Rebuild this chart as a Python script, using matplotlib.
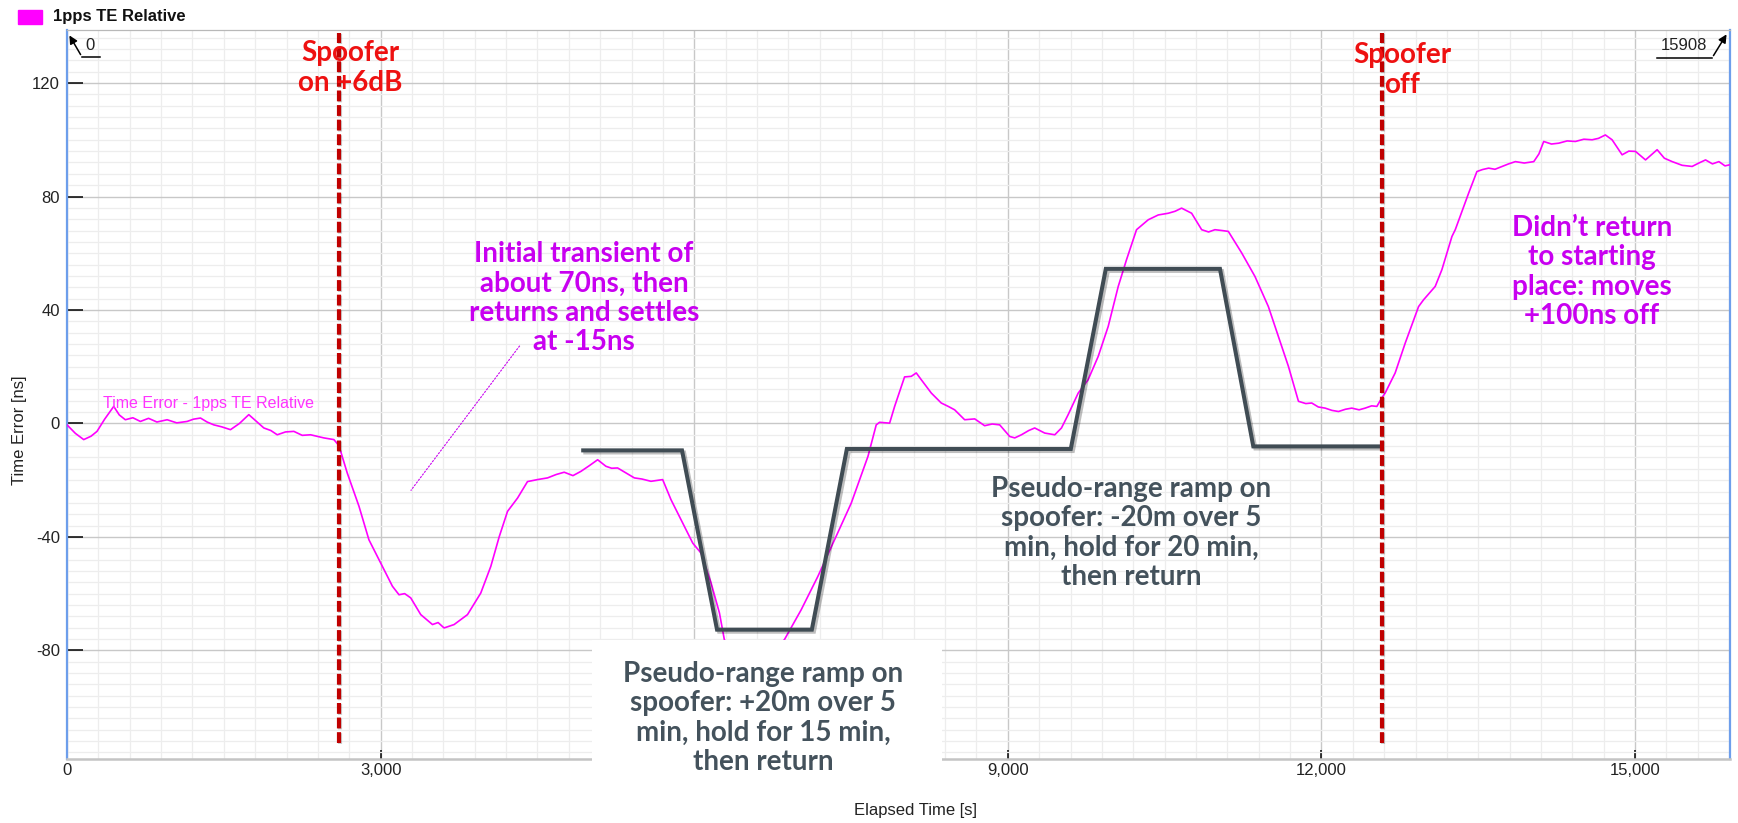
#!/usr/bin/env python3
# -*- coding: utf-8 -*-
"""
Time error plot: 1pps TE relative while a spoofer ramps the pseudo-range.
"""

import matplotlib
matplotlib.use('Agg')
import matplotlib.pyplot as plt
import matplotlib.patheffects as pe
from matplotlib.lines import Line2D
from matplotlib.patches import Rectangle
from matplotlib.ticker import MultipleLocator, FuncFormatter

W, H = 1738, 823

# measured 1pps time error (ns) vs elapsed time (s)
te_time = [0, 80, 160, 230, 287, 360, 447, 500, 558, 630, 702, 780, 860, 958, 1050, 1149, 1210, 1277,
           1340, 1404, 1480, 1564, 1650, 1739, 1810, 1883, 1950, 2011, 2090, 2170, 2250, 2330, 2400,
           2457, 2553, 2601, 2681, 2793, 2888, 3000, 3113, 3176, 3230, 3288, 3384, 3496, 3550, 3607,
           3703, 3831, 3958, 4054, 4134, 4214, 4310, 4405, 4500, 4597, 4680, 4756, 4840, 4916, 5000,
           5076, 5155, 5210, 5267, 5350, 5427, 5500, 5586, 5698, 5778, 5890, 5986, 6065, 6161, 6241,
           6288, 6400, 6550, 6700, 6863, 7023, 7183, 7342, 7502, 7662, 7741, 7773, 7869, 7917, 8012,
           8076, 8124, 8172, 8268, 8363, 8430, 8491, 8587, 8683, 8778, 8850, 8922, 9018, 9066, 9130,
           9200, 9257, 9353, 9449, 9513, 9577, 9673, 9768, 9864, 9960, 10056, 10135, 10231, 10343,
           10439, 10535, 10600, 10662, 10758, 10854, 10920, 10981, 11050, 11109, 11237, 11364, 11492,
           11588, 11684, 11780, 11850, 11907, 11970, 12035, 12100, 12163, 12230, 12290, 12360, 12418,
           12480, 12530, 12577, 12609, 12705, 12769, 12801, 12929, 12977, 13088, 13152, 13248, 13280,
           13408, 13487, 13540, 13599, 13660, 13727, 13790, 13855, 13940, 14031, 14080, 14126, 14200,
           14270, 14350, 14429, 14510, 14589, 14650, 14716, 14780, 14876, 14940, 15004, 15100, 15211,
           15280, 15355, 15450, 15546, 15610, 15674, 15740, 15802, 15860, 15908]
te_ns = [-0.5, -3.5, -5.7, -4.5, -2.8, 1.5, 6.0, 3.0, 1.3, 2.0, 0.7, 1.8, 0.5, 1.3, 0.2, 0.7, 1.5, 1.9,
         0.5, -0.5, -1.2, -2.2, 0.0, 3.1, 0.8, -1.6, -2.5, -4.0, -3.0, -2.8, -4.2, -4.0, -4.6,
         -5.1, -5.7, -7.8, -17.5, -29.2, -41.0, -49.2, -57.4, -60.4, -60.0, -61.5, -67.4, -70.9, -70.2, -72.1,
         -70.9, -67.4, -59.8, -50.4, -40.0, -31.0, -26.3, -20.5, -19.8, -19.2, -18.0, -17.2, -18.4, -16.9, -14.8,
         -12.8, -15.1, -15.8, -15.7, -17.5, -19.2, -19.6, -20.4, -19.8, -26.9, -35.1, -42.2, -45.7, -56.2, -66.8,
         -76.2, -82.0, -84.0, -82.5, -76.2, -65.7, -53.9, -41.0, -28.1, -11.6, -0.5, 0.4, 0.1, 6.0, 16.4,
         16.6, 17.8, 15.4, 10.7, 7.2, 6.0, 4.8, 1.3, 1.6, -0.8, -0.2, -0.5, -4.6, -5.1, -4.0,
         -2.5, -1.6, -3.4, -4.0, -1.6, 3.1, 10.7, 15.4, 23.6, 34.2, 48.3, 57.7, 68.3, 71.8,
         73.5, 74.1, 74.8, 75.9, 74.1, 68.3, 67.5, 68.3, 68.0, 67.7, 60.1, 51.8, 41.2,
         30.7, 20.1, 7.8, 7.0, 7.2, 5.8, 5.4, 4.6, 4.2, 5.0, 5.4, 4.8, 5.4,
         6.2, 6.0, 9.0, 10.7, 17.8, 24.8, 28.3, 41.2, 43.6, 48.3, 54.2, 65.9, 68.3,
         81.2, 88.8, 89.5, 90.0, 89.6, 90.6, 91.5, 92.3, 91.8, 92.3, 95.0, 99.4, 98.5,
         98.8, 99.6, 99.4, 100.2, 100.0, 100.5, 101.7, 100.0, 94.7, 96.0, 95.9, 92.9, 96.5,
         93.5, 92.3, 91.0, 90.6, 91.8, 92.9, 91.5, 92.3, 90.8, 91.2]

# pseudo-range ramp profile drawn over the plot
ramp_time = [4938, 5883, 6218, 7125, 7460, 9602, 9937, 11029, 11348, 12545]
ramp_ns = [-9.5, -9.5, -72.7, -72.7, -9.0, -9.0, 54.5, 54.5, -8.1, -8.1]

spoofer_on_s = 2598
spoofer_off_s = 12577
x_ticks = [0, 3000, 6000, 9000, 12000, 15000]
x_hidden = [6000]  # label sits under the note box
y_ticks = [-80, -40, 0, 40, 80, 120]
x_max = 15908

MAGENTA = '#ff00ff'
NOTE_PURPLE = '#c800f0'
RED_TXT = '#ee1111'
DARK_RED = '#c00000'
SLATE = '#404c54'
NOTE_FONT = ['Lato', 'DejaVu Sans']


def fp(x, y):  # figure pixels (top-left origin) -> figure fraction
    return x / W, 1 - y / H


def xfmt(v, pos):
    if int(v) in x_hidden:
        return ''
    return '{:,}'.format(int(v))


plt.rcParams['font.family'] = ['Liberation Sans', 'DejaVu Sans']
plt.rcParams['axes.unicode_minus'] = False

fig = plt.figure(figsize=(W / 100, H / 100), dpi=100)
x0, y1 = fp(67, 759)
x1, y0 = fp(1730, 30)
ax = fig.add_axes([x0, y1, x1 - x0, y0 - y1])

ax.set_xlim(0, x_max)
ax.set_ylim(-118.3, 138.7)
ax.set_xticks(x_ticks)
ax.set_yticks(y_ticks)
ax.xaxis.set_major_formatter(FuncFormatter(xfmt))
ax.xaxis.set_minor_locator(MultipleLocator(300))
ax.yaxis.set_minor_locator(MultipleLocator(4))
ax.grid(which='minor', color='#ededed', lw=0.9)
ax.grid(which='major', color='#c8c8c8', lw=1.0)
ax.set_axisbelow(True)
ax.tick_params(which='minor', length=0)
ax.tick_params(axis='y', which='major', direction='in', length=11.5, width=1.1,
               pad=5, labelsize=12, labelcolor='#222222')
ax.tick_params(axis='x', which='major', direction='in', length=6.5, width=1.1,
               pad=3, labelsize=12, labelcolor='#222222')

for side in ['left', 'right']:
    ax.spines[side].set_color('#6d9eeb')
    ax.spines[side].set_linewidth(1.6)
ax.spines['top'].set_color('#b8b8b8')
ax.spines['top'].set_linewidth(0.9)
ax.spines['bottom'].set_color('#c4c4c4')
ax.spines['bottom'].set_linewidth(1.8)

# data
ax.plot(te_time, te_ns, color=MAGENTA, lw=1.2, zorder=3)
ax.plot(ramp_time, ramp_ns, color=SLATE, lw=2.9, zorder=4, solid_joinstyle='miter',
        path_effects=[pe.SimpleLineShadow(offset=(1.5, -1.5), alpha=0.25), pe.Normal()])

# spoofer on / off markers
for xs in [spoofer_on_s, spoofer_off_s]:
    ax.plot([xs, xs], [-112.5, 137.7], color=DARK_RED, lw=3, ls=(0, (2.6, 0.9)), zorder=5,
            path_effects=[pe.SimpleLineShadow(offset=(1, -1), alpha=0.2), pe.Normal()])

ax.text(1353, 7.2, 'Time Error - 1pps TE Relative', color='#ff33ff', fontsize=11.5,
        ha='center', va='center', zorder=4)

# leader line from the transient note
ax.plot([4331, 3288], [27.4, -23.7], color=NOTE_PURPLE, lw=0.8, ls=(0, (2, 1)), zorder=5)

# axis labels
fig.text(*fp(20, 430), 'Time Error [ns]', rotation=90, ha='center', va='center',
         fontsize=12, color='#222222')
fig.text(*fp(915, 811), 'Elapsed Time [s]', ha='center', va='center', fontsize=12,
         color='#222222', zorder=8)

# legend
fig.add_artist(Rectangle(fp(18, 24), 24 / W, 14 / H, transform=fig.transFigure,
                         color=MAGENTA, zorder=5))
fig.text(*fp(53, 17), '1pps TE Relative', fontsize=12, fontweight='bold',
         ha='left', va='center', color='#111111')

# cursor markers at the corners
ax.annotate('', xy=fp(68, 33), xytext=fp(82, 57), xycoords='figure fraction',
            textcoords='figure fraction',
            arrowprops=dict(arrowstyle='-|>', color='black', lw=1.1, mutation_scale=12))
fig.add_artist(Line2D([82 / W, 100 / W], [1 - 57 / H, 1 - 57 / H], color='black', lw=1.1))
fig.text(*fp(90, 46), '0', fontsize=12, ha='center', va='center', color='#222222')

ax.annotate('', xy=fp(1728, 32), xytext=fp(1712, 58), xycoords='figure fraction',
            textcoords='figure fraction',
            arrowprops=dict(arrowstyle='-|>', color='black', lw=1.1, mutation_scale=12))
fig.add_artist(Line2D([1657 / W, 1712 / W], [1 - 58 / H, 1 - 58 / H], color='black', lw=1.1))
fig.text(*fp(1684, 46), '15908', fontsize=12, ha='center', va='center', color='#222222')

# annotations
note = dict(family=NOTE_FONT, fontweight='bold', ha='center', va='center', fontsize=20,
            linespacing=1.15, zorder=7)
fig.text(*fp(350, 68), 'Spoofer\non +6dB', color=RED_TXT, **note)
fig.text(*fp(1402, 70), 'Spoofer\noff', color=RED_TXT, **note)
fig.text(*fp(584, 298), 'Initial transient of\nabout 70ns, then\nreturns and settles\nat -15ns',
         color=NOTE_PURPLE, **note)
fig.text(*fp(1592, 272), 'Didn\u2019t return\nto starting\nplace: moves\n+100ns off',
         color=NOTE_PURPLE, **note)
fig.text(*fp(1131, 533), 'Pseudo-range ramp on\nspoofer: -20m over 5\nmin, hold for 20 min,\nthen return',
         color='#44525c', **note)

fig.add_artist(Rectangle(fp(592, 796), 350 / W, 156 / H, transform=fig.transFigure,
                         facecolor='white', edgecolor='none', zorder=6))
fig.text(*fp(763, 718), 'Pseudo-range ramp on\nspoofer: +20m over 5\nmin, hold for 15 min,\nthen return',
         color='#44525c', **note)

fig.savefig('out.png', dpi=100)
